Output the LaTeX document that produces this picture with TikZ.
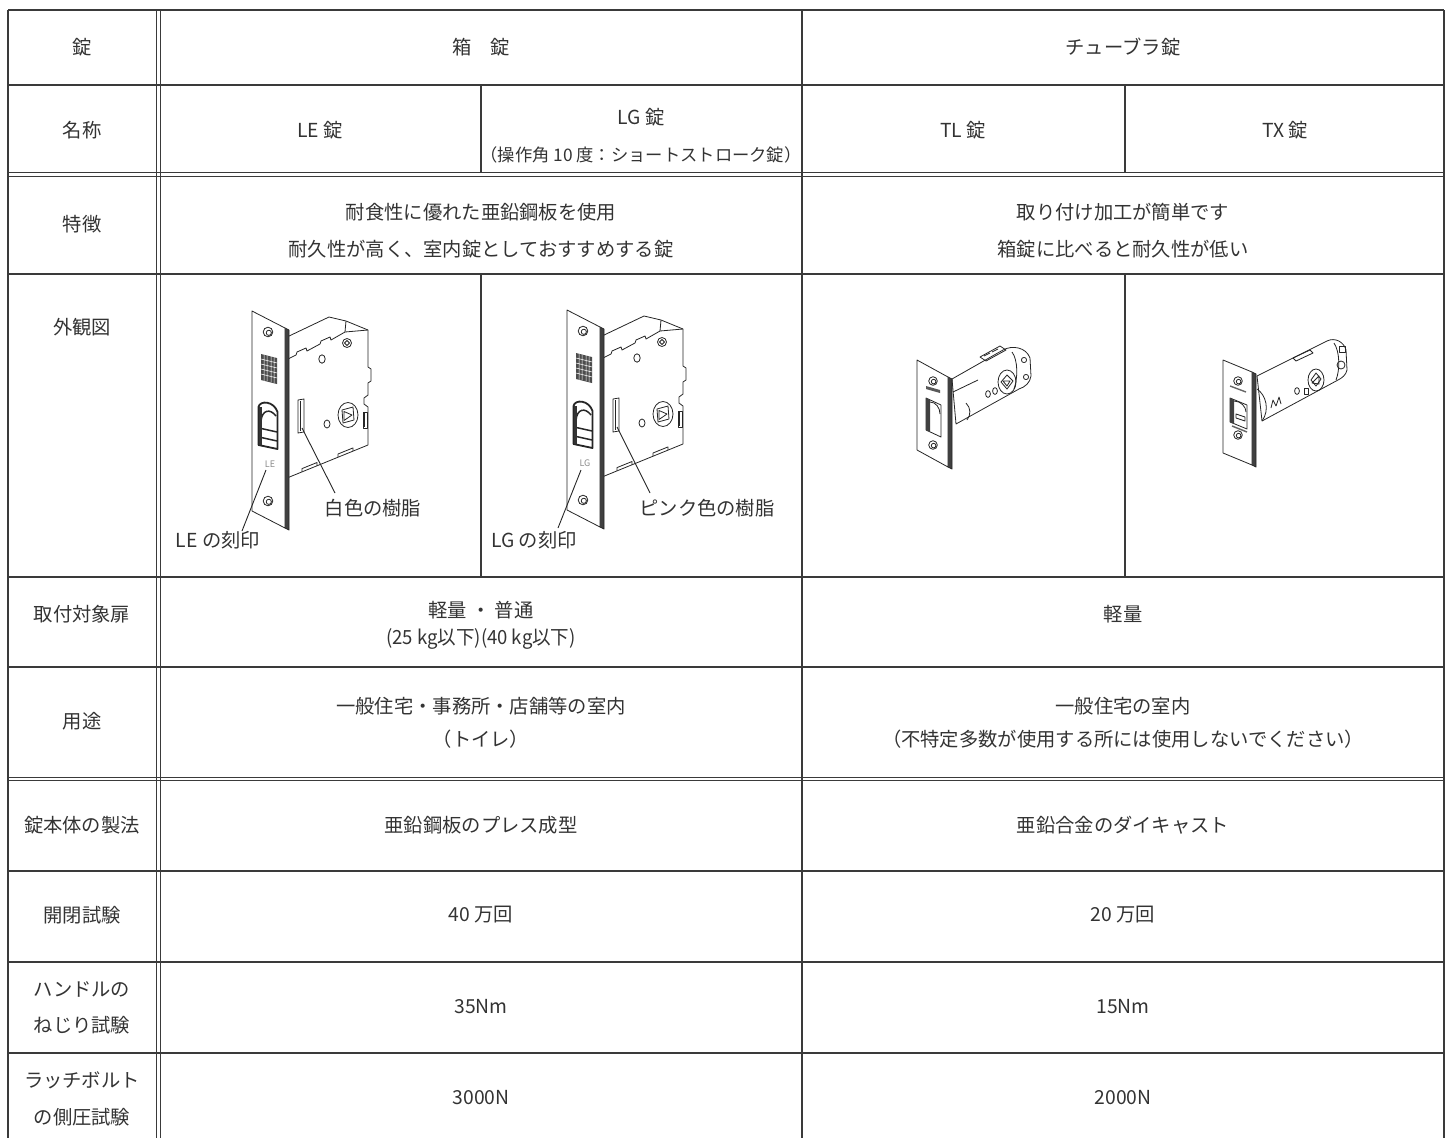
\documentclass[tikz,border=0pt]{standalone}
\usepackage{fontspec}
\setmainfont{Noto Sans CJK JP}
\definecolor{lc}{HTML}{3A3A3A}
\definecolor{tc}{HTML}{333333}
\tikzset{
  gridl/.style={draw=lc, line width=1.3pt},
  dbl/.style={draw=lc, line width=0.9pt},
  txt/.style={font=\fontsize{19.3}{23}\selectfont, text=tc, inner sep=0pt, anchor=center},
  stxt/.style={font=\fontsize{17.3}{20}\selectfont, text=tc, inner sep=0pt, anchor=center},
  art/.style={draw=black!85, line width=0.8pt, line join=round},
  lead/.style={draw=black!85, line width=0.9pt},
  mortise/.pic={
    % case body
    \draw[art, fill=white] (35,26) -- (77,6) -- (94,10) -- (116,19) -- (116,56) -- (119,58) -- (119,70) -- (116,72) -- (116,84) -- (112,87) -- (112,93) -- (116,96) -- (116,134) -- (35,167) -- cycle;
    \draw[art] (36,48) -- (44,44) -- (45,41) -- (54,37) -- (55,40) -- (68,33) -- (69,30) -- (78,26) -- (79,29) -- (93,21) -- (116,19);
    \draw[art] (93,21) -- (94,10);
    \draw[art] (95,32) circle[radius=4.5];
    \draw[art] (92.5,32) -- (95,29.5) -- (97.5,32) -- (95,34.5) -- cycle;
    \draw[art] (70,48) ellipse[x radius=3.2, y radius=4.2];
    \draw[art] (46,89) -- (52,88) -- (52,121) -- (46,122) -- cycle;
    \draw[art] (48.5,90) -- (48.5,120);
    \draw[art] (75,113) ellipse[x radius=3, y radius=4];
    \draw[art] (96,104) ellipse[x radius=10, y radius=12.5];
    \draw[art] (90,99) -- (101,96) -- (102,109) -- (91,112) -- cycle;
    \draw[art] (92,100.5) -- (100,104) -- (92,109.5) -- cycle;
    \draw[art] (111,101) rectangle (115,117);
    \draw[art] (112.5,102) -- (112.5,116);
    \draw[art] (50,160.9) -- (50,157.6) -- (65,151.5) -- (65,154.8);
    \draw[art] (86,146.2) -- (86,143) -- (101,136.9) -- (101,140.1);
    % face plate
    \draw[art, fill=black!75] (33,17) -- (37,19) -- (37,219) -- (33,217) -- cycle;
    \draw[art, fill=white] (0,0) -- (33,17) -- (33,217) -- (0,200) -- cycle;
    \draw[art] (16,21) circle[radius=4.8];
    \draw[art] (16.8,21.8) circle[radius=2.6];
    \draw[art] (16,190) circle[radius=4.8];
    \draw[art] (16.8,190.8) circle[radius=2.6];
    \fill[black!70] (9,43) -- (25,47) -- (25,73) -- (9,69) -- cycle;
    \draw[white, line width=0.5pt] (9,48) -- (25,52) (9,53) -- (25,57) (9,58) -- (25,62) (9,63) -- (25,67) (12,44) -- (12,70) (15,45) -- (15,70) (19,45) -- (19,71) (22,46) -- (22,72);
    \draw[draw=black!85, line width=1.8pt, fill=white, line join=round] (6.5,134) -- (6.5,96) .. controls (8,89) and (22,90) .. (25.5,101) -- (25.5,138) -- cycle;
    \draw[black!85, line width=1.5pt] (9,110) .. controls (10,99) and (18,97) .. (24,105);
    \draw[black!85, line width=1.5pt] (7,117) -- (25,121) (7,126) -- (25,130);
    \fill[black!80] (6.5,96) -- (10,96) -- (10,134) -- (6.5,134) -- cycle;
    \node[font=\fontsize{9}{9}\selectfont, text=black!45, inner sep=0pt] (mk) at (18,153) {#1};
  }
}
\begin{document}
\begin{tikzpicture}[x=1pt,y=-1pt]
\useasboundingbox (0,0) rectangle (1451,1138);
% ---------- table grid ----------
\draw[gridl] (8,10) -- (1444,10);
\draw[gridl] (8,85) -- (1444,85);
\draw[dbl] (8,172) -- (1444,172);
\draw[dbl] (8,176) -- (1444,176);
\draw[gridl] (8,274) -- (1444,274);
\draw[gridl] (8,577) -- (1444,577);
\draw[gridl] (8,667) -- (1444,667);
\draw[dbl] (8,777) -- (1444,777);
\draw[dbl] (8,780.5) -- (1444,780.5);
\draw[gridl] (8,871) -- (1444,871);
\draw[gridl] (8,962) -- (1444,962);
\draw[gridl] (8,1053) -- (1444,1053);
\draw[gridl] (8,10) -- (8,1138);
\draw[gridl] (1444,10) -- (1444,1138);
\draw[dbl] (156,10) -- (156,1138);
\draw[dbl] (160,10) -- (160,1138);
\draw[gridl] (802,10) -- (802,1138);
\draw[gridl] (481,85) -- (481,172);
\draw[gridl] (481,274) -- (481,577);
\draw[gridl] (1125,85) -- (1125,172);
\draw[gridl] (1125,274) -- (1125,577);
% ---------- texts ----------
\node[txt] (h1) at (82,47) {錠};
\node[txt] (h2) at (481,47) {箱　錠};
\node[txt] (h3) at (1123,47) {チューブラ錠};
\node[txt] (n0) at (82,130) {名称};
\node[txt] (n1) at (320,130) {LE 錠};
\node[txt] (n2) at (641,117) {LG 錠};
\node[stxt] (n2b) at (641,155) {（操作角 10 度：ショートストローク錠）};
\node[txt] (n3) at (963,130) {TL 錠};
\node[txt] (n4) at (1285,130) {TX 錠};
\node[txt] (f0) at (82,224) {特徴};
\node[txt] (f1) at (481,212) {耐食性に優れた亜鉛鋼板を使用};
\node[txt] (f2) at (481,249) {耐久性が高く、室内錠としておすすめする錠};
\node[txt] (f3) at (1123,212) {取り付け加工が簡単です};
\node[txt] (f4) at (1123,249) {箱錠に比べると耐久性が低い};
\node[txt] (g0) at (82,327) {外観図};
\node[txt] (d0) at (82,614) {取付対象扉};
\node[txt] (d1) at (481,610) {軽量 ・ 普通};
\node[txt, font=\fontsize{19.5}{22}\selectfont] (d2) at (481,639) {\scalebox{0.95}[1]{(25 kg以下)(40 kg以下)}};
\node[txt] (d3) at (1123,614) {軽量};
\node[txt] (u0) at (82,721) {用途};
\node[txt] (u1) at (481,706) {一般住宅・事務所・店舗等の室内};
\node[txt] (u2) at (481,739) {（トイレ）};
\node[txt] (u3) at (1123,706) {一般住宅の室内};
\node[txt] (u4) at (1123,739) {（不特定多数が使用する所には使用しないでください）};
\node[txt] (m0) at (82,825) {錠本体の製法};
\node[txt] (m1) at (481,825) {亜鉛鋼板のプレス成型};
\node[txt] (m2) at (1123,825) {亜鉛合金のダイキャスト};
\node[txt] (o0) at (82,915) {開閉試験};
\node[txt] (o1) at (481,915) {40 万回};
\node[txt] (o2) at (1123,915) {20 万回};
\node[txt] (t0a) at (82,989) {ハンドルの};
\node[txt] (t0b) at (82,1025) {ねじり試験};
\node[txt] (t1) at (481,1007) {35Nm};
\node[txt] (t2) at (1123,1007) {15Nm};
\node[txt] (s0a) at (82,1080) {ラッチボルト};
\node[txt] (s0b) at (82,1117) {の側圧試験};
\node[txt] (s1) at (481,1098) {3000N};
\node[txt] (s2) at (1123,1098) {2000N};
% ---------- mortise locks ----------
\pic (le) at (252,311) {mortise=LE};
\pic (lg) at (567,310) {mortise=LG};
\node[txt] (leres) at (373,508) {白色の樹脂};
\node[txt] (lemark) at (218,540) {LE の刻印};
\node[txt] (lgres) at (707,508) {ピンク色の樹脂};
\node[txt] (lgmark) at (534,540) {LG の刻印};
\coordinate (leslot) at (302,428);
\coordinate (leresend) at (335,493);
\coordinate (lestamp) at (266,470);
\coordinate (lestampend) at (242,531);
\coordinate (lgslot) at (617,427);
\coordinate (lgresend) at (650,493);
\coordinate (lgstamp) at (581,470);
\coordinate (lgstampend) at (558,528);
\draw[lead] (leslot) -- (leresend);
\draw[lead] (lestamp) -- (lestampend);
\draw[lead] (lgslot) -- (lgresend);
\draw[lead] (lgstamp) -- (lgstampend);
% ---------- TL tubular latch ----------
\draw[art, fill=white] (952,379) -- (1003,350) .. controls (1012,345) and (1026,347) .. (1030,358) -- (1031,376) .. controls (1030,383) and (1025,387) .. (1019,389) -- (956,424) -- cycle;
\draw[art] (953,392) -- (978,380);
\draw[art] (1012,352) .. controls (1018,360) and (1018,378) .. (1014,389);
\draw[art] (1024,360) circle[radius=2.6];
\draw[art] (1026,377) circle[radius=2.6];
\draw[art] (980,357) -- (1000,346) -- (1006,350) -- (986,361) -- cycle;
\draw[art] (984,356) -- (990,353) (992,352) -- (998,349);
\draw[art] (1007,382) ellipse[x radius=9, y radius=12];
\draw[art] (1001,382) -- (1007,375) -- (1013,381) -- (1007,389) -- cycle;
\draw[art] (1003,381) -- (1010,381) -- (1007,386) -- cycle;
\draw[art] (988,394) ellipse[x radius=2.4, y radius=3.4];
\draw[art] (995,391) ellipse[x radius=2.4, y radius=3.4];
\draw[art] (966,403) .. controls (971,408) and (971,415) .. (967,420);
\draw[art, fill=black!75] (948,377) -- (952,379) -- (952,469) -- (948,467) -- cycle;
\draw[art, fill=white] (917,360) -- (948,377) -- (948,467) -- (917,450) -- cycle;
\draw[art] (933,381) circle[radius=4.3];
\draw[art] (933.6,381.6) circle[radius=2.3];
\draw[art] (933,445) circle[radius=4.3];
\draw[art] (933.6,445.6) circle[radius=2.3];
\fill[black!65] (926,386) -- (940,390) -- (940,393) -- (926,389) -- cycle;
\draw[art, fill=white] (926,398) -- (941,405) -- (941,437) -- (926,430) -- cycle;
\fill[black!75] (926,398) -- (930,400) -- (930,432) -- (926,430) -- cycle;
\draw[art] (930,402) .. controls (936,402) and (940,408) .. (940,414);
% ---------- TX tubular latch ----------
\draw[art, fill=white] (1257,376) -- (1327,341) .. controls (1335,337) and (1344,342) .. (1346,350) -- (1347,370) .. controls (1346,375) and (1342,378) .. (1338,380) -- (1262,421) -- cycle;
\draw[art] (1257,389) .. controls (1266,395) and (1270,410) .. (1262,421);
\draw[art] (1334,343) .. controls (1340,352) and (1340,370) .. (1336,380);
\draw[art] (1341,365) circle[radius=4];
\draw[art] (1339,346) rectangle (1345,352);
\draw[art] (1293,358) -- (1310,350) -- (1313,353) -- (1296,361) -- cycle;
\draw[art] (1316,380) ellipse[x radius=8, y radius=11];
\draw[art] (1311,380) -- (1316,373) -- (1321,379) -- (1316,386) -- cycle;
\draw[art] (1312,383) -- (1319,376) -- (1319,384) -- cycle;
\draw[art] (1297,391) ellipse[x radius=2.4, y radius=3.4];
\draw[art] (1304,388) rectangle (1308,394);
\draw[art] (1271,408) -- (1273,400) -- (1276,406) -- (1279,397) -- (1281,404);
\draw[art, fill=black!75] (1252,372) -- (1256,374) -- (1256,467) -- (1252,465) -- cycle;
\draw[art, fill=white] (1223,360) -- (1252,372) -- (1252,465) -- (1223,453) -- cycle;
\draw[art] (1238,381) circle[radius=4.3];
\draw[art] (1238.6,381.6) circle[radius=2.3];
\draw[art] (1238,435) circle[radius=4.3];
\draw[art] (1238.6,435.6) circle[radius=2.3];
\draw[black!60, line width=1.4pt] (1230,386) -- (1246,392);
\draw[black!60, line width=1.4pt] (1232,426) -- (1247,432);
\draw[art, fill=white] (1230,398) -- (1247,405) -- (1247,429) -- (1230,422) -- cycle;
\fill[black!75] (1230,398) -- (1234,400) -- (1234,424) -- (1230,422) -- cycle;
\draw[art] (1234,401) .. controls (1241,401) and (1246,407) .. (1246,412);
\draw[art] (1236,414) -- (1245,417) -- (1245,421) -- (1236,418) -- cycle;
\end{tikzpicture}
\end{document}
